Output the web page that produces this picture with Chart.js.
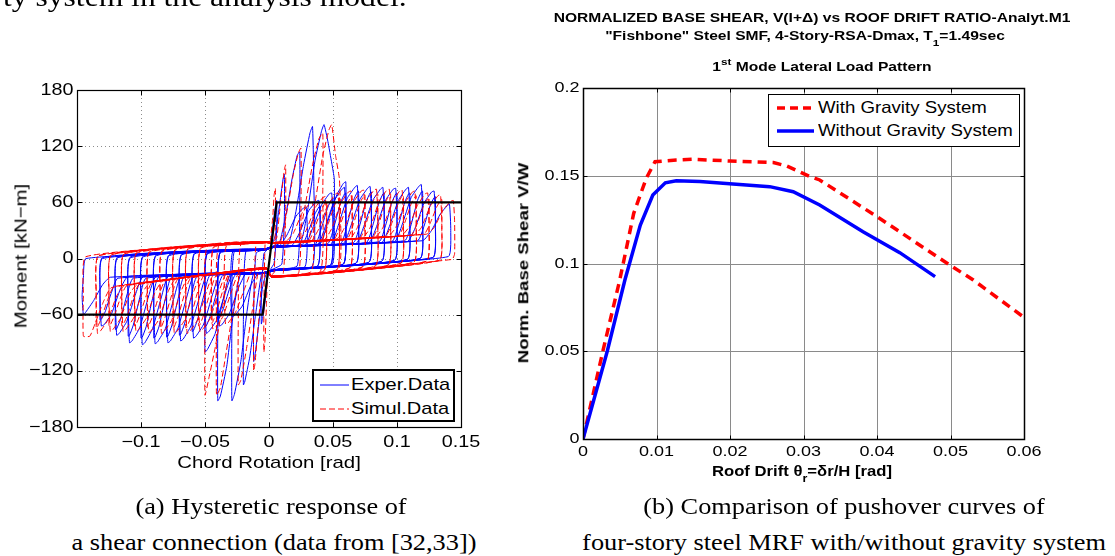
<!DOCTYPE html>
<html>
<head>
<meta charset="utf-8">
<script src="https://cdn.jsdelivr.net/npm/chart.js@4.4.1/dist/chart.umd.min.js"></script>
<style>
  html, body { margin: 0; padding: 0; background: #fff; }
  body { width: 1115px; height: 556px; position: relative; overflow: hidden;
         font-family: "Liberation Sans", Arial, Helvetica, sans-serif; color: #000; }
  canvas { position: absolute; }
  .t { position: absolute; white-space: nowrap; line-height: 1; }
  .serif { font-family: "Liberation Serif", "Times New Roman", serif; }
  .t sub, .t sup { font-size: 0.75em; line-height: 0; }
  .t sub { vertical-align: -0.55em; }
  .t sup { vertical-align: 0.6em; }
  .legend { position: absolute; background: #fff; border: 2px solid #000; box-sizing: border-box; }
  .legend svg { position: absolute; }
  .legend span { position: absolute; white-space: nowrap; line-height: 1; transform-origin: 0 50%; }
</style>
</head>
<body>
<canvas id="hyst" width="480" height="470" style="left:0;top:0;width:480px;height:470px"></canvas>
<canvas id="push" width="595" height="470" style="left:520px;top:0;width:595px;height:470px"></canvas>

<div id="labels"></div>

<div class="legend" style="left:312px;top:369px;width:143px;height:53px">
  <svg width="40" height="50" style="left:4px;top:0"><line x1="2" y1="14" x2="31" y2="14" stroke="#0000ff" stroke-width="1"/>
    <line x1="2" y1="38" x2="31" y2="38" stroke="#ff0000" stroke-width="1" stroke-dasharray="6,3"/></svg>
  <span style="left:37px;top:5px;font-size:17px;transform:scaleX(1.18)">Exper.Data</span>
  <span style="left:37px;top:29px;font-size:17px;transform:scaleX(1.18)">Simul.Data</span>
</div>

<div class="legend" style="left:768px;top:94px;width:252px;height:53px;border-width:1.5px">
  <svg width="50" height="50" style="left:6px;top:0"><line x1="2" y1="13" x2="39" y2="13" stroke="#ff0000" stroke-width="3.5" stroke-dasharray="8,5"/>
    <line x1="2" y1="36" x2="39" y2="36" stroke="#0000ff" stroke-width="3.5"/></svg>
  <span style="left:49px;top:4px;font-size:16.5px;transform:scaleX(1.13)">With Gravity System</span>
  <span style="left:49px;top:27px;font-size:16.5px;transform:scaleX(1.13)">Without Gravity System</span>
</div>

<script>
// ---- (a) hysteresis: chord rotation [rad] vs moment [kN-m] ----
const hystXTicks = [-0.1, -0.05, 0, 0.05, 0.1, 0.15];
const hystYTicks = [-180, -120, -60, 0, 60, 120, 180];

const experLoops = [
  [[0.001,10],[0.003,35],[0.005,55],[0.006,62],[0.006,30],[0.004,-5],[0.001,-12],[-0.001,-20],[-0.003,-45],[-0.005,-64],[-0.006,-70],[-0.006,-35],[-0.004,5],[-0.001,10]],
  [[0.002,14],[0.005,25],[0.008,55],[0.011,85],[0.012,90],[0.012,45],[0.01,-6],[0.002,-12],[-0.002,-16],[-0.005,-30],[-0.008,-70],[-0.011,-104],[-0.012,-110],[-0.012,-55],[-0.01,6],[-0.002,10]],
  [[0.003,13],[0.008,16],[0.013,45],[0.018,85],[0.022,110],[0.024,114],[0.024,57],[0.022,-8],[0.003,-12],[-0.003,-15],[-0.006,-18],[-0.01,-55],[-0.015,-105],[-0.019,-132],[-0.02,-135],[-0.02,-65],[-0.018,8],[-0.003,10]],
  [[0.003,13],[0.015,15],[0.021,50],[0.027,100],[0.032,134],[0.034,141],[0.035,80],[0.034,-8],[0.003,-12],[-0.003,-15],[-0.012,-16],[-0.017,-55],[-0.022,-110],[-0.027,-145],[-0.029,-152],[-0.029,-75],[-0.027,8],[-0.003,10]],
  [[0.003,13],[0.024,15],[0.03,50],[0.036,105],[0.041,136],[0.043,143],[0.046,125],[0.049,102],[0.051,85],[0.051,40],[0.049,-7],[0.003,-12],[-0.003,-15],[-0.022,-17],[-0.028,-60],[-0.033,-115],[-0.038,-147],[-0.04,-152],[-0.04,-75],[-0.038,7],[-0.003,10]],
  [[0.003,13],[0.04,16],[0.046,40],[0.053,68],[0.058,80],[0.06,82],[0.06,40],[0.058,-6],[0.003,-12],[-0.003,-15],[-0.03,-17],[-0.036,-45],[-0.042,-80],[-0.048,-97],[-0.05,-100],[-0.05,-50],[-0.048,6],[-0.003,10]],
  [[0.004,13],[0.008,13],[0.014,25],[0.021,45],[0.027,54],[0.029,55],[0.03,28],[0.028,-9],[0.004,-12],[-0.004,-15],[-0.008,-15],[-0.014,-28],[-0.021,-51],[-0.027,-61],[-0.029,-62],[-0.03,-31],[-0.028,8],[-0.004,10]],
  [[0.004,13],[0.018,14],[0.024,28],[0.031,51],[0.037,61],[0.039,62],[0.04,31],[0.038,-8],[0.004,-12],[-0.004,-15],[-0.018,-16],[-0.024,-32],[-0.031,-59],[-0.037,-71],[-0.039,-72],[-0.04,-36],[-0.038,7],[-0.004,10]],
  [[0.004,13],[0.028,14],[0.034,32],[0.041,57],[0.047,69],[0.049,70],[0.05,35],[0.048,-7],[0.004,-12],[-0.004,-15],[-0.028,-16],[-0.034,-36],[-0.041,-66],[-0.047,-78],[-0.049,-80],[-0.05,-40],[-0.048,6],[-0.004,10]],
  [[0.004,13],[0.038,15],[0.044,34],[0.051,62],[0.057,74],[0.059,76],[0.06,38],[0.058,-6],[0.004,-12],[-0.004,-15],[-0.038,-17],[-0.044,-38],[-0.051,-70],[-0.057,-83],[-0.059,-85],[-0.06,-42],[-0.058,6],[-0.004,10]],
  [[0.004,13],[0.048,15],[0.054,35],[0.061,64],[0.067,76],[0.069,78],[0.07,39],[0.068,-5],[0.004,-12],[-0.004,-15],[-0.048,-17],[-0.054,-40],[-0.061,-72],[-0.067,-86],[-0.069,-88],[-0.07,-44],[-0.068,5],[-0.004,10]],
  [[0.004,13],[0.058,16],[0.064,35],[0.071,63],[0.077,75],[0.079,77],[0.08,38],[0.078,-4],[0.004,-12],[-0.004,-15],[-0.058,-17],[-0.064,-40],[-0.071,-74],[-0.077,-88],[-0.079,-90],[-0.08,-45],[-0.078,4],[-0.004,10]],
  [[0.004,13],[0.068,16],[0.074,34],[0.081,62],[0.087,74],[0.089,76],[0.09,38],[0.088,-3],[0.004,-12],[-0.004,-15],[-0.068,-18],[-0.074,-41],[-0.081,-75],[-0.087,-89],[-0.089,-91],[-0.09,-45],[-0.088,4],[-0.004,10]],
  [[0.004,13],[0.078,17],[0.084,34],[0.091,62],[0.097,74],[0.099,75],[0.1,37],[0.098,-2],[0.004,-12],[-0.004,-15],[-0.078,-18],[-0.084,-41],[-0.091,-75],[-0.097,-90],[-0.099,-92],[-0.1,-46],[-0.098,3],[-0.004,10]],
  [[0.004,13],[0.088,17],[0.094,34],[0.101,62],[0.107,74],[0.109,76],[0.11,38],[0.108,-1],[0.004,-12],[-0.004,-15],[-0.088,-19],[-0.094,-40],[-0.101,-74],[-0.107,-88],[-0.109,-90],[-0.11,-45],[-0.108,2],[-0.004,10]],
  [[0.004,13],[0.098,18],[0.104,36],[0.111,65],[0.117,77],[0.119,79],[0.12,40],[0.118,0],[0.004,-12],[-0.004,-15],[-0.098,-19],[-0.104,-37],[-0.111,-67],[-0.117,-80],[-0.119,-82],[-0.12,-41],[-0.118,2],[-0.004,10]],
  [[0.004,13],[0.108,18],[0.114,32],[0.121,59],[0.127,71],[0.129,72],[0.13,36],[0.128,1],[0.004,-12],[-0.004,-15],[-0.11,-19],[-0.116,-32],[-0.123,-59],[-0.129,-71],[-0.131,-72],[-0.132,-36],[-0.13,1],[-0.004,10]],
  [[0.004,13],[0.12,19],[0.127,30],[0.134,48],[0.139,56],[0.141,58],[0.142,30],[0.14,2],[0.004,-12],[-0.004,-15],[-0.124,-20],[-0.13,-28],[-0.137,-45],[-0.143,-57],[-0.145,-60],[-0.146,-40],[-0.145,-20],[-0.143,0],[-0.004,10]]
];

// second (repeat) cycle at each amplitude
const experRepeatLoops = [
  [[0.004,12],[0.026,15],[0.031,30],[0.036,48],[0.039,55],[0.04,56],[0.04,28],[0.038,-8],[0.004,-13],[-0.004,-16],[-0.026,-17],[-0.031,-33],[-0.036,-55],[-0.039,-64],[-0.04,-65],[-0.04,-32],[-0.038,6],[-0.004,9]],
  [[0.004,12],[0.036,15],[0.041,33],[0.046,55],[0.049,63],[0.05,64],[0.05,32],[0.048,-7],[0.004,-13],[-0.004,-16],[-0.036,-18],[-0.041,-37],[-0.046,-62],[-0.049,-72],[-0.05,-73],[-0.05,-36],[-0.048,5],[-0.004,9]],
  [[0.004,12],[0.046,16],[0.051,35],[0.056,60],[0.059,69],[0.06,70],[0.06,35],[0.058,-6],[0.004,-13],[-0.004,-16],[-0.046,-18],[-0.051,-40],[-0.056,-66],[-0.059,-77],[-0.06,-78],[-0.06,-39],[-0.058,5],[-0.004,9]],
  [[0.004,12],[0.056,16],[0.061,36],[0.066,62],[0.069,71],[0.07,72],[0.07,36],[0.068,-5],[0.004,-13],[-0.004,-16],[-0.056,-19],[-0.061,-42],[-0.066,-70],[-0.069,-81],[-0.07,-82],[-0.07,-41],[-0.068,4],[-0.004,9]],
  [[0.004,12],[0.066,17],[0.071,36],[0.076,61],[0.079,70],[0.08,71],[0.08,35],[0.078,-4],[0.004,-13],[-0.004,-16],[-0.066,-19],[-0.071,-43],[-0.076,-72],[-0.079,-83],[-0.08,-84],[-0.08,-42],[-0.078,3],[-0.004,9]],
  [[0.004,12],[0.076,17],[0.081,35],[0.086,60],[0.089,69],[0.09,70],[0.09,35],[0.088,-3],[0.004,-13],[-0.004,-16],[-0.076,-20],[-0.081,-43],[-0.086,-73],[-0.089,-84],[-0.09,-85],[-0.09,-42],[-0.088,3],[-0.004,9]],
  [[0.004,12],[0.086,18],[0.091,35],[0.096,60],[0.099,69],[0.1,70],[0.1,35],[0.098,-2],[0.004,-13],[-0.004,-16],[-0.086,-20],[-0.091,-43],[-0.096,-73],[-0.099,-84],[-0.1,-85],[-0.1,-42],[-0.098,2],[-0.004,9]],
  [[0.004,12],[0.096,18],[0.101,35],[0.106,60],[0.109,69],[0.11,70],[0.11,35],[0.108,-1],[0.004,-13],[-0.004,-16],[-0.096,-21],[-0.101,-42],[-0.106,-71],[-0.109,-82],[-0.11,-83],[-0.11,-41],[-0.108,1],[-0.004,9]],
  [[0.004,12],[0.106,19],[0.111,36],[0.116,62],[0.119,71],[0.12,72],[0.12,36],[0.118,0],[0.004,-13],[-0.004,-16],[-0.106,-21],[-0.111,-39],[-0.116,-65],[-0.119,-75],[-0.12,-76],[-0.12,-38],[-0.118,1],[-0.004,9]],
  [[0.004,12],[0.116,19],[0.121,34],[0.126,57],[0.129,65],[0.13,66],[0.13,33],[0.128,1],[0.004,-13],[-0.004,-16],[-0.118,-21],[-0.123,-36],[-0.128,-57],[-0.131,-65],[-0.132,-66],[-0.132,-33],[-0.13,0],[-0.004,9]]
];

const simulLoops = [
  [[0.001,18],[0.003,45],[0.004,68],[0.005,75],[0.005,35],[0.004,-15],[0.001,-18],[-0.001,-12],[-0.002,-50],[-0.003,-85],[-0.004,-100],[-0.004,-50],[-0.003,17],[-0.001,18]],
  [[0.002,17],[0.006,22],[0.009,60],[0.012,95],[0.013,100],[0.013,50],[0.011,-17],[0.002,-19],[-0.002,-10],[-0.005,-14],[-0.008,-65],[-0.011,-113],[-0.012,-120],[-0.012,-60],[-0.01,17],[-0.002,18]],
  [[0.002,17],[0.009,18],[0.014,50],[0.019,90],[0.023,113],[0.025,118],[0.025,60],[0.023,-16],[0.002,-19],[-0.002,-10],[-0.008,-12],[-0.013,-55],[-0.018,-100],[-0.022,-130],[-0.024,-135],[-0.024,-68],[-0.022,15],[-0.002,18]],
  [[0.002,17],[0.022,19],[0.028,55],[0.034,100],[0.039,128],[0.042,134],[0.042,70],[0.04,-14],[0.002,-19],[-0.002,-10],[-0.022,-14],[-0.028,-55],[-0.034,-105],[-0.038,-138],[-0.041,-146],[-0.041,-72],[-0.039,14],[-0.002,18]],
  [[0.002,17],[0.03,19],[0.036,60],[0.042,110],[0.047,138],[0.049,143],[0.052,110],[0.055,85],[0.056,40],[0.054,-12],[0.002,-19],[-0.002,-10],[-0.03,-15],[-0.036,-50],[-0.042,-95],[-0.047,-128],[-0.05,-146],[-0.05,-68],[-0.048,13],[-0.002,18]],
  [[0.002,17],[0.013,18],[0.019,27],[0.026,49],[0.032,59],[0.034,60],[0.035,30],[0.033,-14],[0.002,-19],[-0.002,-10],[-0.013,-12],[-0.019,-32],[-0.026,-57],[-0.032,-69],[-0.034,-70],[-0.035,-35],[-0.033,14],[-0.002,18]],
  [[0.002,17],[0.023,19],[0.029,30],[0.036,54],[0.042,65],[0.044,66],[0.045,33],[0.043,-13],[0.002,-19],[-0.002,-10],[-0.023,-14],[-0.029,-34],[-0.036,-62],[-0.042,-74],[-0.044,-75],[-0.045,-38],[-0.043,13],[-0.002,18]],
  [[0.002,17],[0.033,19],[0.039,32],[0.046,57],[0.052,69],[0.054,70],[0.055,35],[0.053,-12],[0.002,-19],[-0.002,-10],[-0.033,-16],[-0.039,-35],[-0.046,-64],[-0.052,-76],[-0.054,-78],[-0.055,-39],[-0.053,12],[-0.002,18]],
  [[0.002,17],[0.043,20],[0.049,32],[0.056,59],[0.062,71],[0.064,72],[0.065,36],[0.063,-10],[0.002,-19],[-0.002,-10],[-0.043,-17],[-0.049,-36],[-0.056,-66],[-0.062,-78],[-0.064,-80],[-0.065,-40],[-0.063,11],[-0.002,18]],
  [[0.002,17],[0.053,21],[0.059,33],[0.066,60],[0.072,72],[0.074,73],[0.075,37],[0.073,-9],[0.002,-19],[-0.002,-10],[-0.053,-19],[-0.059,-36],[-0.066,-66],[-0.072,-78],[-0.074,-80],[-0.075,-40],[-0.073,10],[-0.002,18]],
  [[0.002,17],[0.063,21],[0.069,33],[0.076,61],[0.082,73],[0.084,74],[0.085,37],[0.083,-8],[0.002,-19],[-0.002,-10],[-0.063,-21],[-0.069,-36],[-0.076,-66],[-0.082,-78],[-0.084,-80],[-0.085,-40],[-0.083,9],[-0.002,18]],
  [[0.002,17],[0.073,22],[0.079,33],[0.086,61],[0.092,73],[0.094,74],[0.095,37],[0.093,-7],[0.002,-19],[-0.002,-10],[-0.073,-22],[-0.079,-36],[-0.086,-65],[-0.092,-77],[-0.094,-79],[-0.095,-40],[-0.093,8],[-0.002,18]],
  [[0.002,17],[0.083,23],[0.089,33],[0.096,60],[0.102,72],[0.104,73],[0.105,37],[0.103,-5],[0.002,-19],[-0.002,-10],[-0.083,-24],[-0.089,-36],[-0.096,-64],[-0.102,-76],[-0.104,-78],[-0.105,-39],[-0.103,7],[-0.002,18]],
  [[0.002,17],[0.093,24],[0.099,33],[0.106,59],[0.112,71],[0.114,72],[0.115,36],[0.113,-4],[0.002,-19],[-0.002,-10],[-0.093,-26],[-0.099,-37],[-0.106,-64],[-0.112,-76],[-0.114,-78],[-0.115,-39],[-0.113,5],[-0.002,18]],
  [[0.002,17],[0.103,24],[0.109,33],[0.116,57],[0.122,69],[0.124,70],[0.125,35],[0.123,-3],[0.002,-19],[-0.002,-10],[-0.103,-28],[-0.109,-38],[-0.116,-64],[-0.122,-76],[-0.124,-78],[-0.125,-39],[-0.123,4],[-0.002,18]],
  [[0.002,17],[0.113,25],[0.119,33],[0.126,56],[0.132,67],[0.134,68],[0.135,34],[0.133,-2],[0.002,-19],[-0.002,-10],[-0.113,-29],[-0.119,-40],[-0.126,-66],[-0.132,-78],[-0.134,-80],[-0.135,-40],[-0.133,3],[-0.002,18]],
  [[0.002,17],[0.123,26],[0.129,33],[0.136,52],[0.142,61],[0.144,62],[0.145,40],[0.145,5],[0.143,-1],[0.002,-19],[-0.002,-10],[-0.123,-31],[-0.129,-45],[-0.136,-70],[-0.14,-83],[-0.145,-83],[-0.145,-40],[-0.143,2],[-0.002,18]]
];

const simulRepeatLoops = [
  [[0.002,16],[0.031,19],[0.036,34],[0.041,52],[0.044,60],[0.045,61],[0.045,30],[0.043,-13],[0.002,-20],[-0.002,-11],[-0.031,-16],[-0.036,-34],[-0.041,-57],[-0.044,-68],[-0.045,-69],[-0.045,-35],[-0.043,12],[-0.002,17]],
  [[0.002,16],[0.041,20],[0.046,36],[0.051,56],[0.054,64],[0.055,65],[0.055,32],[0.053,-12],[0.002,-20],[-0.002,-11],[-0.041,-18],[-0.046,-36],[-0.051,-60],[-0.054,-71],[-0.055,-72],[-0.055,-36],[-0.053,11],[-0.002,17]],
  [[0.002,16],[0.051,21],[0.056,37],[0.061,58],[0.064,66],[0.065,67],[0.065,33],[0.063,-10],[0.002,-20],[-0.002,-11],[-0.051,-19],[-0.056,-37],[-0.061,-62],[-0.064,-73],[-0.065,-74],[-0.065,-37],[-0.063,10],[-0.002,17]],
  [[0.002,16],[0.061,21],[0.066,37],[0.071,59],[0.074,67],[0.075,68],[0.075,34],[0.073,-9],[0.002,-20],[-0.002,-11],[-0.061,-21],[-0.066,-38],[-0.071,-62],[-0.074,-73],[-0.075,-74],[-0.075,-37],[-0.073,9],[-0.002,17]],
  [[0.002,16],[0.071,22],[0.076,38],[0.081,60],[0.084,68],[0.085,69],[0.085,34],[0.083,-8],[0.002,-20],[-0.002,-11],[-0.071,-22],[-0.076,-39],[-0.081,-62],[-0.084,-73],[-0.085,-74],[-0.085,-37],[-0.083,8],[-0.002,17]],
  [[0.002,16],[0.081,23],[0.086,38],[0.091,60],[0.094,68],[0.095,69],[0.095,34],[0.093,-7],[0.002,-20],[-0.002,-11],[-0.081,-24],[-0.086,-40],[-0.091,-62],[-0.094,-72],[-0.095,-73],[-0.095,-36],[-0.093,7],[-0.002,17]],
  [[0.002,16],[0.091,24],[0.096,38],[0.101,59],[0.104,67],[0.105,68],[0.105,34],[0.103,-5],[0.002,-20],[-0.002,-11],[-0.091,-25],[-0.096,-40],[-0.101,-61],[-0.104,-71],[-0.105,-72],[-0.105,-36],[-0.103,6],[-0.002,17]],
  [[0.002,16],[0.101,24],[0.106,38],[0.111,58],[0.114,66],[0.115,67],[0.115,33],[0.113,-4],[0.002,-20],[-0.002,-11],[-0.101,-27],[-0.106,-41],[-0.111,-62],[-0.114,-71],[-0.115,-72],[-0.115,-36],[-0.113,5],[-0.002,17]],
  [[0.002,16],[0.111,25],[0.116,38],[0.121,57],[0.124,64],[0.125,65],[0.125,32],[0.123,-3],[0.002,-20],[-0.002,-11],[-0.111,-29],[-0.116,-42],[-0.121,-62],[-0.124,-71],[-0.125,-72],[-0.125,-36],[-0.123,4],[-0.002,17]],
  [[0.002,16],[0.121,26],[0.126,38],[0.131,55],[0.134,62],[0.135,63],[0.135,31],[0.133,-2],[0.002,-20],[-0.002,-11],[-0.121,-30],[-0.126,-44],[-0.131,-64],[-0.134,-73],[-0.135,-74],[-0.135,-37],[-0.133,3],[-0.002,17]]
];

// bilinear backbone
const bilinear = [[-0.15, -60], [-0.005, -60], [0.006, 60], [0.15, 60]];

// ---- (b) pushover curves: roof drift ratio vs V/W ----
const pushXTicks = [0, 0.01, 0.02, 0.03, 0.04, 0.05, 0.06];
const pushYTicks = [0, 0.05, 0.1, 0.15, 0.2];
const withGravDrift  = [0, 0.0027, 0.005, 0.0069, 0.0086, 0.0098, 0.0127, 0.015, 0.02, 0.0259, 0.0277, 0.0309, 0.0322, 0.04, 0.0499, 0.0531, 0.06];
const withGravShear  = [0, 0.05, 0.0906, 0.1286, 0.1485, 0.158, 0.159, 0.1594, 0.1584, 0.1575, 0.1556, 0.1495, 0.1476, 0.1267, 0.0991, 0.0906, 0.0693];
const withoutGravDrift = [0, 0.0033, 0.0057, 0.0078, 0.0095, 0.0112, 0.0127, 0.0159, 0.0204, 0.0254, 0.0286, 0.0322, 0.0381, 0.0431, 0.0479];
const withoutGravShear = [0, 0.05, 0.0906, 0.1219, 0.139, 0.146, 0.1472, 0.1467, 0.1453, 0.1438, 0.1409, 0.1333, 0.1181, 0.1062, 0.0925];

const pairPts = pairs => pairs.map(([x, y]) => ({ x, y }));
const loopPts = loops => pairPts(loops.flat());
const zipPts = (xs, ys) => xs.map((x, i) => ({ x, y: ys[i] }));
const fmt = v => String(v).replace('-', '\u2212');

// grid, inward ticks, box and (wide) tick labels drawn from the scales
function frame(cfg) {
  return {
    id: 'frame',
    beforeDatasetsDraw(chart) {
      const { ctx, chartArea: a, scales: { x, y } } = chart;
      ctx.save();
      ctx.strokeStyle = cfg.gridColor;
      ctx.lineWidth = 1;
      ctx.setLineDash(cfg.gridDash);
      ctx.beginPath();
      cfg.xTicks.forEach(v => { const p = Math.round(x.getPixelForValue(v)) + 0.5; ctx.moveTo(p, a.top); ctx.lineTo(p, a.bottom); });
      cfg.yTicks.forEach(v => { const p = Math.round(y.getPixelForValue(v)) + 0.5; ctx.moveTo(a.left, p); ctx.lineTo(a.right, p); });
      ctx.stroke();
      ctx.restore();
    },
    afterDatasetsDraw(chart) {
      const { ctx, chartArea: a, scales: { x, y } } = chart;
      const L = Math.round(a.left) + 0.5, R = Math.round(a.right) + 0.5;
      const T = Math.round(a.top) + 0.5, B = Math.round(a.bottom) + 0.5;
      ctx.save();
      ctx.strokeStyle = '#000';
      ctx.lineWidth = cfg.boxWidth;
      ctx.strokeRect(L, T, R - L, B - T);
      ctx.lineWidth = 1;
      ctx.beginPath();
      cfg.xTicks.forEach(v => { const p = Math.round(x.getPixelForValue(v)) + 0.5;
        ctx.moveTo(p, B); ctx.lineTo(p, B - cfg.tick); ctx.moveTo(p, T); ctx.lineTo(p, T + cfg.tick); });
      cfg.yTicks.forEach(v => { const p = Math.round(y.getPixelForValue(v)) + 0.5;
        ctx.moveTo(L, p); ctx.lineTo(L + cfg.tick, p); ctx.moveTo(R, p); ctx.lineTo(R - cfg.tick, p); });
      ctx.stroke();
      ctx.fillStyle = '#000';
      ctx.font = cfg.font;
      ctx.textBaseline = 'middle';
      cfg.xTicks.filter(v => !cfg.hideX.includes(v)).forEach(v => {
        ctx.save(); ctx.translate(x.getPixelForValue(v), B + cfg.xLabelGap); ctx.scale(cfg.stretch, 1);
        ctx.textAlign = 'center'; ctx.fillText(fmt(v), 0, 0); ctx.restore();
      });
      cfg.yTicks.forEach(v => {
        ctx.save(); ctx.translate(L - cfg.yLabelGap, y.getPixelForValue(v)); ctx.scale(cfg.stretch, 1);
        ctx.textAlign = 'right'; ctx.fillText(fmt(v), 0, 0); ctx.restore();
      });
      ctx.restore();
    }
  };
}

function axisOpts(min, max, horizontal) {
  return {
    type: 'linear', min, max,
    grid: { display: false, drawTicks: false },
    border: { display: false },
    ticks: { display: false },
    afterFit: s => { if (horizontal) s.height = 0; else s.width = 0; }
  };
}

const baseOpts = {
  responsive: false,
  animation: false,
  events: [],
  plugins: { legend: { display: false }, tooltip: { enabled: false } }
};

new Chart(document.getElementById('hyst'), {
  type: 'scatter',
  data: {
    datasets: [
      { data: pairPts(bilinear), showLine: true, borderColor: '#000', borderWidth: 2.2, pointRadius: 0, order: 0 },
      { data: loopPts(simulLoops.concat(simulRepeatLoops)), showLine: true, borderColor: '#ff0000', borderWidth: 1,
        borderDash: [6, 3], pointRadius: 0, tension: 0.15, order: 1 },
      { data: loopPts(experLoops.concat(experRepeatLoops)), showLine: true, borderColor: '#0000ff', borderWidth: 1,
        pointRadius: 0, tension: 0.15, order: 2 }
    ]
  },
  options: Object.assign({}, baseOpts, {
    layout: { padding: { left: 77, right: 19, top: 90, bottom: 43 } },
    scales: { x: axisOpts(-0.15, 0.15, true), y: axisOpts(-180, 180, false) }
  }),
  plugins: [frame({
    xTicks: hystXTicks.concat([-0.15]), yTicks: hystYTicks, hideX: [-0.15],
    gridColor: '#8c8c8c', gridDash: [1, 3], boxWidth: 1.2, tick: 5,
    font: '16.5px "Liberation Sans", Arial, sans-serif', stretch: 1.2, xLabelGap: 15, yLabelGap: 4
  })]
});

new Chart(document.getElementById('push'), {
  type: 'scatter',
  data: {
    datasets: [
      { data: zipPts(withoutGravDrift, withoutGravShear), showLine: true, borderColor: '#0000ff', borderWidth: 3.5,
        pointRadius: 0, order: 0 },
      { data: zipPts(withGravDrift, withGravShear), showLine: true, borderColor: '#ff0000', borderWidth: 3.5,
        borderDash: [9, 6], pointRadius: 0, order: 1 }
    ]
  },
  options: Object.assign({}, baseOpts, {
    layout: { padding: { left: 63, right: 91, top: 88, bottom: 31 } },
    scales: { x: axisOpts(0, 0.06, true), y: axisOpts(0, 0.2, false) }
  }),
  plugins: [frame({
    xTicks: pushXTicks, yTicks: pushYTicks, hideX: [],
    gridColor: '#8a8a8a', gridDash: [], boxWidth: 1.5, tick: 4,
    font: '15px "Liberation Sans", Arial, sans-serif', stretch: 1.2, xLabelGap: 12, yLabelGap: 4
  })]
});

// ---- text: titles, axis labels, captions ----
const texts = [
  { html: 'ty system in the analysis model.', x: 3, y: -15.6, size: 27, sx: 1.17, cls: 'serif', anchor: 'left' },
  { html: 'NORMALIZED BASE SHEAR, V(I+\u0394) vs ROOF DRIFT RATIO-Analyt.M1', x: 812, y: 17, size: 13, sx: 1.2, bold: true },
  { html: '"Fishbone" Steel SMF, 4-Story-RSA-Dmax, T<sub>1</sub>=1.49sec', x: 805, y: 36, size: 13, sx: 1.2, bold: true },
  { html: '1<sup>st</sup> Mode Lateral Load Pattern', x: 822, y: 66, size: 13, sx: 1.2, bold: true },
  { html: 'Moment [kN\u2212m]', x: 21, y: 256, size: 17, sx: 1.2, rot: true },
  { html: 'Chord Rotation [rad]', x: 269, y: 462, size: 17, sx: 1.2 },
  { html: 'Norm. Base Shear V/W', x: 523, y: 263, size: 15.5, sx: 1.2, bold: true, rot: true },
  { html: 'Roof Drift \u03b8<sub>r</sub>=\u03b4r/H [rad]', x: 802, y: 471, size: 14.5, sx: 1.15, bold: true },
  { html: '(a) Hysteretic response of', x: 271, y: 507, size: 22.5, sx: 1.17, cls: 'serif' },
  { html: 'a shear connection (data from [32,33])', x: 274, y: 543, size: 22.5, sx: 1.17, cls: 'serif' },
  { html: '(b) Comparison of pushover curves of', x: 844, y: 507, size: 22.5, sx: 1.17, cls: 'serif' },
  { html: 'four-story steel MRF with/without gravity system', x: 844, y: 543, size: 22.5, sx: 1.17, cls: 'serif' }
];

const holder = document.getElementById('labels');
texts.forEach(t => {
  const d = document.createElement('div');
  d.className = 't' + (t.cls ? ' ' + t.cls : '');
  d.innerHTML = t.html;
  d.style.fontSize = t.size + 'px';
  d.style.left = t.x + 'px';
  d.style.top = t.y + 'px';
  if (t.bold) d.style.fontWeight = 'bold';
  if (t.anchor === 'left') {
    d.style.transformOrigin = '0 0';
    d.style.transform = `scaleX(${t.sx})`;
  } else {
    d.style.transform = `translate(-50%, -50%) ${t.rot ? 'rotate(-90deg) ' : ''}scaleX(${t.sx})`;
  }
  holder.appendChild(d);
});
</script>
</body>
</html>
